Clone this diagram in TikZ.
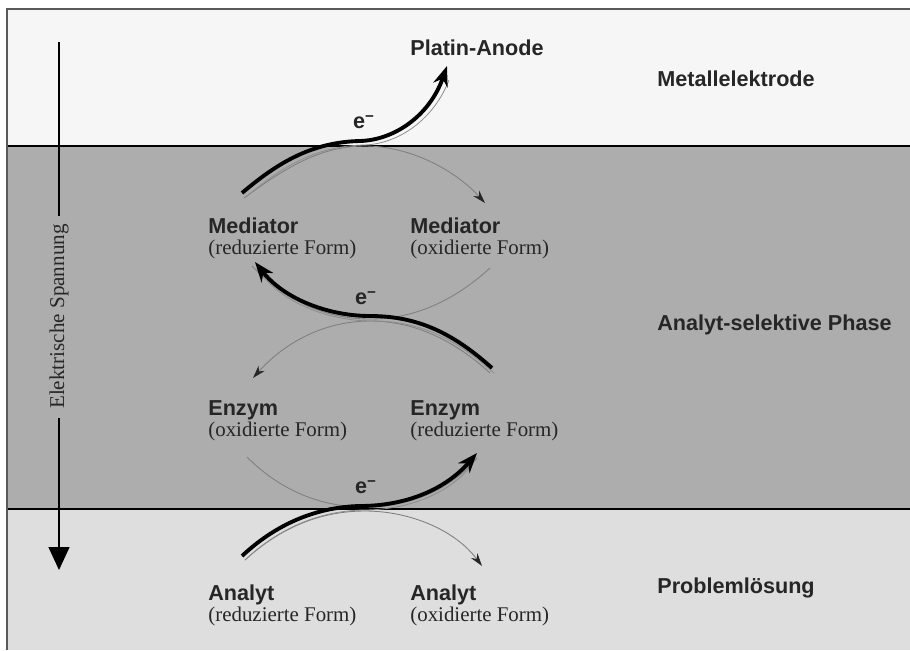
\documentclass[tikz,border=0pt]{standalone}
\usepackage{fontspec}
\setmainfont{Liberation Serif}
\setsansfont{Liberation Sans}
\usetikzlibrary{arrows.meta}
\definecolor{elektrode}{HTML}{F6F6F6}
\definecolor{phase}{HTML}{ADADAD}
\definecolor{loesung}{HTML}{DEDEDE}
\newcommand{\fettsf}{\fontsize{12.3}{12}\selectfont\sffamily\bfseries}
\tikzset{
  zone/.style={anchor=base west, inner sep=0pt, font=\fettsf, text=black!85},
  stoff/.style={anchor=north west, inner sep=0pt, align=left, text=black!85,
    font=\fontsize{11.9}{12}\selectfont},
  elab/.style={inner sep=0pt, font=\fettsf, text=black!85},
  reaktion/.style={draw=black!50, line width=0.5pt,
    -{Stealth[length=2.6mm,width=1.6mm,black!85]}},
  rueck/.style={draw=black!50, line width=0.5pt},
  elektron/.style={line width=2.2pt, -{Stealth[length=4mm,width=3mm]}},
  schatten/.style={draw=black!45, line width=0.45pt},
  grenze/.style={line width=1.4pt},
  spannung/.style={line width=0.8pt, -{Triangle[length=4.6mm,width=4.2mm]}}
}
\begin{document}
\begin{tikzpicture}[x=0.02cm, y=-0.02cm]
\useasboundingbox (0,0) rectangle (910,650);
% Schichten
\fill[elektrode] (7,9) rectangle (910,146);
\fill[phase] (7,146) rectangle (910,509);
\fill[loesung] (7,509) rectangle (910,650);
\draw[grenze] (7,146) -- (910,146);
\draw[grenze] (7,509) -- (910,509);
\draw[black!65, line width=0.6pt] (7,650) -- (7,9) -- (910,9);

% Endpunkte der Boegen
\coordinate (medR1) at (244,198);
\coordinate (medO1) at (485,203);
\coordinate (medO2) at (490,268);
\coordinate (medR2) at (252,266);
\coordinate (enzR1) at (490,373);
\coordinate (enzO1) at (253,378);
\coordinate (enzO2) at (247,457);
\coordinate (enzR2) at (477,458);
\coordinate (anaR) at (245,560);
\coordinate (anaO) at (482,566);
\coordinate (eA1) at (242,193);
\coordinate (anode) at (447,66);
\coordinate (eA2) at (492,368);
\coordinate (eB2) at (255,262);
\coordinate (eA3) at (242,556);
\coordinate (eB3) at (477,453);

% Reaktionen (duenn)
\draw[reaktion] (medR1) .. controls (285,168) and (320,146) .. (365,146)
  .. controls (410,146) and (455,170) .. (medO1);
\draw[rueck] (medO2) .. controls (455,300) and (415,319) .. (370,319)
  .. controls (325,319) and (285,300) .. (medR2);
\draw[reaktion] (enzR1) .. controls (455,341) and (415,321) .. (370,321)
  .. controls (325,321) and (285,342) .. (enzO1);
\draw[rueck] (enzO2) .. controls (280,490) and (320,507) .. (365,507)
  .. controls (410,507) and (450,490) .. (enzR2);
\draw[reaktion] (anaR) .. controls (280,528) and (320,511) .. (365,511)
  .. controls (410,511) and (455,530) .. (anaO);

% Elektronen (dick) mit Schatten
\draw[schatten, transform canvas={xshift=0.08cm, yshift=-0.08cm}]
  (eA1) .. controls (275,165) and (310,142) .. (360,141)
  .. controls (395,140) and (430,115) .. (445,76);
\draw[elektron] (eA1) .. controls (275,165) and (310,142) .. (360,141)
  .. controls (395,140) and (430,115) .. (anode);
\draw[schatten, transform canvas={xshift=0.04cm, yshift=-0.1cm}]
  (eA2) .. controls (455,335) and (420,316) .. (370,316)
  .. controls (330,316) and (285,300) .. (262,272);
\draw[elektron] (eA2) .. controls (455,335) and (420,316) .. (370,316)
  .. controls (330,316) and (285,300) .. (eB2);
\draw[schatten, transform canvas={xshift=0.06cm, yshift=-0.08cm}]
  (eA3) .. controls (275,525) and (315,507) .. (360,506)
  .. controls (405,506) and (445,490) .. (468,462);
\draw[elektron] (eA3) .. controls (275,525) and (315,507) .. (360,506)
  .. controls (405,506) and (445,490) .. (eB3);

\node[elab] (e1) at (364,122) {e\textsuperscript{−}};
\node[elab] (e2) at (366,298) {e\textsuperscript{−}};
\node[elab] (e3) at (366,487) {e\textsuperscript{−}};

% Beschriftungen
\node[zone] (platin) at (410,55) {Platin-Anode};
\node[zone] (metall) at (657,86) {Metallelektrode};
\node[zone] (selektiv) at (657,330) {Analyt-selektive Phase};
\node[zone] (probe) at (657,593) {Problemlösung};

\node[stoff] (medred) at (208,217) {{\fettsf Mediator}\\(reduzierte Form)};
\node[stoff] (medox) at (410,217) {{\fettsf Mediator}\\(oxidierte Form)};
\node[stoff] (enzox) at (208,400) {{\fettsf Enzym}\\(oxidierte Form)};
\node[stoff] (enzred) at (410,400) {{\fettsf Enzym}\\(reduzierte Form)};
\node[stoff] (anared) at (208,584) {{\fettsf Analyt}\\(reduzierte Form)};
\node[stoff] (anaox) at (410,584) {{\fettsf Analyt}\\(oxidierte Form)};

% Spannung
\coordinate (uoben) at (59,42);
\coordinate (uunten) at (59,570);
\draw[spannung] (uoben) -- (uunten)
  node[pos=0.52, rotate=90, fill=phase, inner xsep=5pt, inner ysep=1pt,
    text=black!85, font=\fontsize{12}{12}\selectfont] (spann) {Elektrische Spannung};
\end{tikzpicture}
\end{document}
